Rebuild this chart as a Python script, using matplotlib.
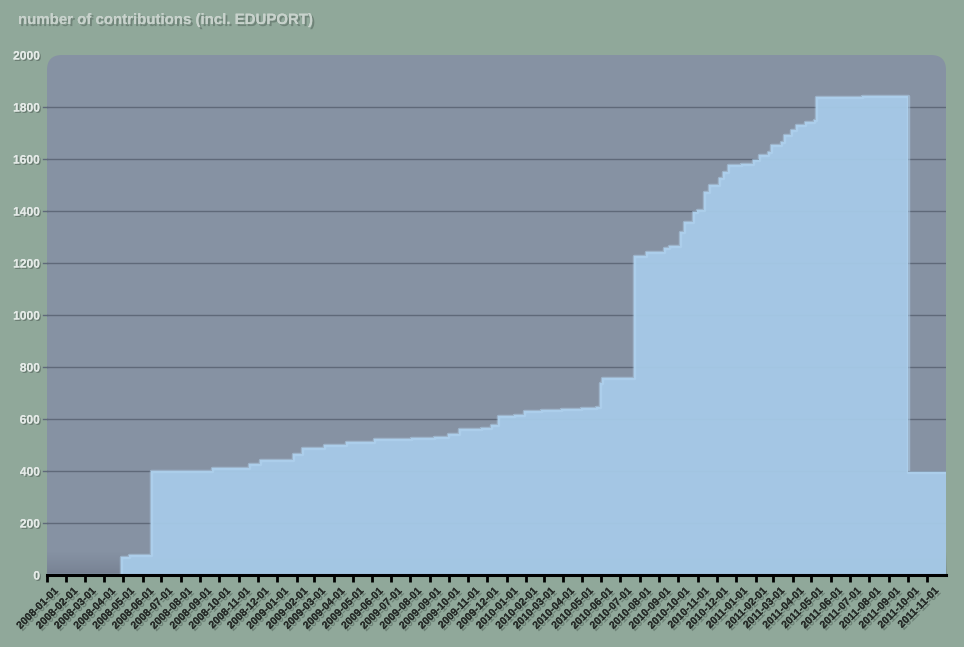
import numpy as np
import pandas as pd
import matplotlib
matplotlib.use('Agg')
import matplotlib.pyplot as plt
import matplotlib.dates as mdates
import matplotlib.patheffects as pe
import matplotlib.transforms as mtransforms
from matplotlib.patches import FancyBboxPatch

# cumulative number of contributions (step changes)
change_dates = [
    '2008-01-01', '2008-04-28', '2008-05-10', '2008-06-15', '2008-09-20',
    '2008-11-17', '2008-12-05', '2009-01-27', '2009-02-09', '2009-03-16',
    '2009-04-20', '2009-06-04', '2009-08-02', '2009-09-07', '2009-09-30',
    '2009-10-17', '2009-11-21', '2009-12-07', '2009-12-18', '2010-01-13',
    '2010-01-29', '2010-02-25', '2010-03-29', '2010-04-29', '2010-05-23',
    '2010-05-30', '2010-06-02', '2010-07-22', '2010-08-11', '2010-09-09',
    '2010-09-17', '2010-10-04', '2010-10-11', '2010-10-25', '2010-10-31',
    '2010-11-11', '2010-11-19', '2010-12-05', '2010-12-12', '2010-12-20',
    '2011-01-09', '2011-01-28', '2011-02-07', '2011-02-21', '2011-02-26',
    '2011-03-14', '2011-03-19', '2011-03-30', '2011-04-07', '2011-04-20',
    '2011-05-05', '2011-05-09', '2011-07-20', '2011-10-02', '2011-12-01',
]
contributions = [
    0, 70, 77, 401, 413,
    426, 442, 464, 487, 500,
    513, 522, 527, 532, 544,
    560, 565, 577, 611, 617,
    631, 635, 637, 642, 647,
    738, 759, 1228, 1241, 1256,
    1266, 1320, 1359, 1397, 1403,
    1474, 1500, 1526, 1551, 1577,
    1582, 1596, 1615, 1628, 1654,
    1666, 1692, 1712, 1731, 1743,
    1750, 1837, 1843, 398, 398,
]
y_ticks = [0, 200, 400, 600, 800, 1000, 1200, 1400, 1600, 1800, 2000]
title = 'number of contributions (incl. EDUPORT)'

bg = '#90a89a'
panel = '#8692a3'
fill_col = '#a6cae8'
grid_col = '#5f6979'

dates = pd.to_datetime(change_dates)
month_ticks = pd.date_range('2008-01-01', '2011-11-01', freq='MS')

W, H = 964, 647
fig = plt.figure(figsize=(W / 100, H / 100), dpi=100, facecolor=bg)
ax = fig.add_axes([47 / W, 1 - 575 / H, (946 - 47) / W, (575 - 55) / H])
ax.set_facecolor('none')

x0 = mdates.date2num(pd.Timestamp('2008-01-01'))
x1 = mdates.date2num(pd.Timestamp('2011-12-01'))
ax.set_xlim(x0, x1)
ax.set_ylim(0, 2000)

# rounded panel behind the data, drawn in inches, bottom clipped by the axes
panel_patch = FancyBboxPatch((0.47, 0.3), 8.99, (H - 55) / 100 - 0.3,
                             boxstyle='round,pad=0,rounding_size=0.15',
                             transform=fig.dpi_scale_trans, facecolor=panel,
                             edgecolor='none', zorder=0)
ax.add_patch(panel_patch)
panel_patch.set_clip_box(ax.bbox)

# soft dark shading near the bottom of the panel
grad = np.linspace(0, 1, 100).reshape(-1, 1) ** 0.6
shade = matplotlib.colors.LinearSegmentedColormap.from_list(
    'shade', [(0.33, 0.36, 0.43, 0.4), (0.33, 0.36, 0.43, 0.0)])
ax.imshow(grad, extent=[x0, x1, 0, 90], aspect='auto', cmap=shade, origin='lower', zorder=0.5)

for yv in y_ticks[1:-1]:
    ax.axhline(yv, color=grid_col, lw=1, zorder=1)
    ax.plot([-0.004, 0], [yv, yv], transform=ax.get_yaxis_transform(), color=grid_col,
            lw=1, clip_on=False)

ax.fill_between(dates, contributions, step='post', color=fill_col, alpha=0.95, lw=0, zorder=2)
ax.step(dates, contributions, where='post', color='#b4d6f2', lw=2.5, alpha=0.5, zorder=2.1)

for side in ['left', 'right', 'top']:
    ax.spines[side].set_visible(False)
ax.spines['bottom'].set_color('black')
ax.spines['bottom'].set_linewidth(2.2)
ax.spines['bottom'].set_zorder(3)

ax.set_yticks(y_ticks)
ax.set_yticklabels([str(v) for v in y_ticks])
ax.tick_params(axis='y', length=0, pad=5, labelsize=8.7, labelcolor='#e4eae7')
for lab in ax.get_yticklabels():
    lab.set_fontfamily('Liberation Sans')
    lab.set_fontweight('bold')
    lab.set_path_effects([pe.withSimplePatchShadow(offset=(1, -1), shadow_rgbFace='#3a4540', alpha=0.45),
                          pe.Normal()])

ax.set_xticks(mdates.date2num(month_ticks))
ax.set_xticklabels(month_ticks.strftime('%Y-%m-%d'))
ax.tick_params(axis='x', length=5, width=2, color='black', pad=3, labelsize=7.6, labelcolor='#262b28')
shift = mtransforms.ScaledTranslation(4 / 72, 0, fig.dpi_scale_trans)
for lab in ax.get_xticklabels():
    lab.set_rotation(45)
    lab.set_ha('right')
    lab.set_va('top')
    lab.set_rotation_mode('anchor')
    lab.set_fontfamily('Liberation Sans')
    lab.set_fontweight('bold')
    lab.set_transform(lab.get_transform() + shift)
    lab.set_path_effects([pe.withSimplePatchShadow(offset=(1.5, -1.5), shadow_rgbFace='#4a5a52', alpha=0.5),
                          pe.Normal()])

fig.text(18 / W, 1 - 20 / H, title, fontsize=10.8, fontweight='bold', color='#c8d2cc',
         family='Liberation Sans', va='center', ha='left',
         path_effects=[pe.withSimplePatchShadow(offset=(1.5, -1.5), shadow_rgbFace='#4f5f57', alpha=0.5),
                       pe.Normal()])

fig.savefig('out.png', dpi=100, facecolor=bg)
